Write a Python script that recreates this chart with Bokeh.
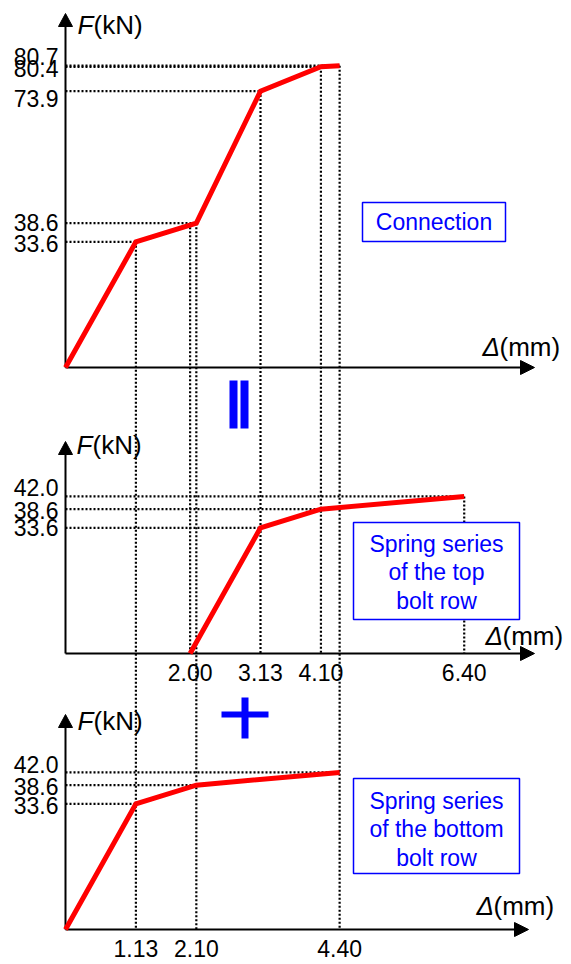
from bokeh.plotting import figure
from bokeh.models import Range1d
from bokeh.core.properties import value
from bokeh.embed import file_html
from bokeh.resources import INLINE

# ---------------- data ----------------
top_d = [0.0, 1.13, 2.10, 3.13, 4.10, 4.40]
top_F = [0.0, 33.6, 38.6, 73.9, 80.4, 80.7]
mid_d = [2.00, 3.13, 4.10, 6.40]
mid_F = [0.0, 33.6, 38.6, 42.0]
bot_d = [0.0, 1.13, 2.10, 4.40]
bot_F = [0.0, 33.6, 38.6, 42.0]

top_ytick_vals = [80.7, 80.4, 73.9, 38.6, 33.6]
mid_ytick_vals = [42.0, 38.6, 33.6]
bot_ytick_vals = [42.0, 38.6, 33.6]
top_ytick_labels = ["80.7", "80.4", "73.9", "38.6", "33.6"]
mid_ytick_labels = ["42.0", "38.6", "33.6"]
bot_ytick_labels = ["42.0", "38.6", "33.6"]
mid_xtick_vals = [2.00, 3.13, 4.10, 6.40]
mid_xtick_labels = ["2.00", "3.13", "4.10", "6.40"]
bot_xtick_vals = [1.13, 2.10, 4.40]
bot_xtick_labels = ["1.13", "2.10", "4.40"]

box_top_text = ["Connection"]
box_mid_text = ["Spring series", "of the top", "bolt row"]
box_bot_text = ["Spring series", "of the bottom", "bolt row"]

# vertical guide lines: (x value, start panel, start F, end panel)
v_guides = [
    (top_d[1], "top", top_F[1], "bot"),
    (top_d[2], "top", top_F[2], "bot"),
    (mid_d[0], "top", top_F[2], "mid"),
    (top_d[3], "top", top_F[3], "mid"),
    (top_d[4], "top", top_F[4], "mid"),
    (top_d[5], "top", top_F[5], "bot"),
    (mid_d[3], "mid", mid_F[3], "mid"),
]

# ---------------- layout ----------------
W, H = 571, 964
X0, SX, SY = 65.0, 62.3, 3.74
BASE = {"top": 367.0, "mid": 653.0, "bot": 929.0}
FONT = value("Liberation Sans")
BLUE = "#0000FF"

p = figure(width=W, height=H, x_range=Range1d(0, W), y_range=Range1d(H, 0),
           x_axis_type=None, y_axis_type=None, toolbar_location=None,
           output_backend="svg", min_border=0)
p.outline_line_color = None
p.grid.visible = False
p.background_fill_color = "white"
p.border_fill_color = "white"
p.extra_x_ranges = {"mm": Range1d(-X0 / SX, (W - X0) / SX)}
p.extra_y_ranges = {k: Range1d((b - H) / SY, b / SY) for k, b in BASE.items()}

dot = dict(line_color="black", line_width=2.2, line_dash="2 2", line_cap="butt")

# horizontal guides
for panel, d, F in (("top", top_d, top_F), ("mid", mid_d, mid_F), ("bot", bot_d, bot_F)):
    xs = [dd for dd, ff in zip(d, F) if ff > 0]
    ys = [ff for ff in F if ff > 0]
    p.segment(x0=[0.0] * len(xs), y0=ys, x1=xs, y1=ys,
              x_range_name="mm", y_range_name=panel, **dot)

# vertical guides
for xv, sp, fv, ep in v_guides:
    yend = (BASE[sp] - BASE[ep]) / SY
    p.segment(x0=[xv], y0=[fv], x1=[xv], y1=[yend],
              x_range_name="mm", y_range_name=sp, **dot)

# axes (lines + arrowheads), in pixel layout coordinates
axis_cfg = {
    "top": dict(ytip=13, xtip=534),
    "mid": dict(ytip=441, xtip=534),
    "bot": dict(ytip=714, xtip=528),
}
for panel, c in axis_cfg.items():
    b = BASE[panel]
    p.segment(x0=[X0], y0=[b], x1=[X0], y1=[c["ytip"] + 8], line_color="black", line_width=2)
    p.segment(x0=[X0], y0=[b], x1=[c["xtip"] - 8], y1=[b], line_color="black", line_width=2)
    p.patch(x=[X0 - 7, X0, X0 + 7], y=[c["ytip"] + 13, c["ytip"], c["ytip"] + 13],
            fill_color="black", line_color="black")
    p.patch(x=[c["xtip"] - 14, c["xtip"], c["xtip"] - 14], y=[b - 7, b, b + 7],
            fill_color="black", line_color="black")

# red curves
for panel, d, F in (("top", top_d, top_F), ("mid", mid_d, mid_F), ("bot", bot_d, bot_F)):
    p.line(x=d, y=F, x_range_name="mm", y_range_name=panel,
           line_color="#FF0000", line_width=5, line_join="miter")

# boxes
p.quad(left=[362, 353, 353], right=[505, 519, 519], top=[202, 522, 778], bottom=[241, 619, 873],
       fill_color="white", line_color=BLUE, line_width=1.5)

box_txt = dict(text_font=FONT, text_font_size="23px", text_color=BLUE,
               text_align="center", text_baseline="middle")
p.text(x=[433.5], y=[221], text=box_top_text, **box_txt)
p.text(x=[436] * 3, y=[543, 571.5, 600], text=box_mid_text, **box_txt)
p.text(x=[436] * 3, y=[800, 828.5, 857], text=box_bot_text, **box_txt)

# symbols between panels
p.quad(left=[229, 240], right=[237, 248], top=[380, 380], bottom=[428, 428],
       fill_color=BLUE, line_color=None)
p.quad(left=[241, 221], right=[248, 268], top=[697, 711], bottom=[738, 717],
       fill_color=BLUE, line_color=None)

# y tick labels
tick_txt = dict(text_font=FONT, text_font_size="23px", text_color="black")
ydy = {"top": [-9, 2, 7, -1, 2], "mid": [-9, 1, 0], "bot": [-8, 1, 2]}
for panel, vals, labs in (("top", top_ytick_vals, top_ytick_labels),
                          ("mid", mid_ytick_vals, mid_ytick_labels),
                          ("bot", bot_ytick_vals, bot_ytick_labels)):
    ys = [BASE[panel] - v * SY + dy for v, dy in zip(vals, ydy[panel])]
    p.text(x=[58] * len(vals), y=ys, text=labs, text_align="right",
           text_baseline="middle", **tick_txt)

# x tick labels
p.text(x=mid_xtick_vals, y=[672] * len(mid_xtick_vals), text=mid_xtick_labels,
       x_range_name="mm", text_align="center", text_baseline="middle", **tick_txt)
p.text(x=bot_xtick_vals, y=[948] * len(bot_xtick_vals), text=bot_xtick_labels,
       x_range_name="mm", text_align="center", text_baseline="middle", **tick_txt)

# axis titles
lab = dict(text_font=FONT, text_font_size="26px", text_color="black", text_baseline="middle")
for (fx, fy) in ((77, 24), (76, 444), (77, 720)):
    p.text(x=[fx], y=[fy], text=["F"], text_font_style="italic", text_align="left", **lab)
    p.text(x=[fx + 16], y=[fy], text=["(kN)"], text_align="left", **lab)
for (dx, dy) in ((482, 346), (485, 635), (476, 905)):
    p.text(x=[dx], y=[dy], text=["Δ"], text_font_style="italic", text_align="left", **lab)
    p.text(x=[dx + 17], y=[dy], text=["(mm)"], text_align="left", **lab)

open("out.html", "w").write(file_html(p, INLINE))
